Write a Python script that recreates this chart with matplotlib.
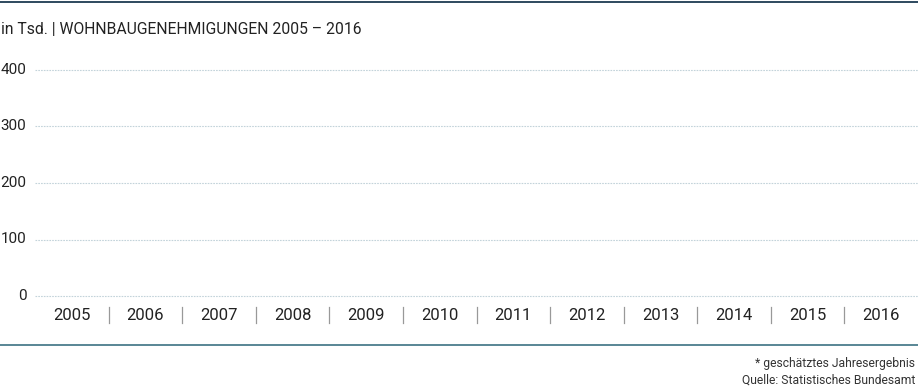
import matplotlib.pyplot as plt
from matplotlib.lines import Line2D

plt.rcParams['font.family'] = ['Liberation Sans Narrow', 'Roboto', 'DejaVu Sans']

years = ['2005', '2006', '2007', '2008', '2009', '2010',
         '2011', '2012', '2013', '2014', '2015', '2016']
yticks = [0, 100, 200, 300, 400]
title = 'in Tsd. | WOHNBAUGENEHMIGUNGEN 2005 – 2016'
notes = ['* geschätztes Jahresergebnis', 'Quelle: Statistisches Bundesamt']

W, H = 918, 388
fig = plt.figure(figsize=(W / 100, H / 100), dpi=100)

# plot area: x 35..918 px, y value 0 at 296 px, 400 at 70 px
x0, x1 = 35, 918
ybot, ytop = 296, 70
ax = fig.add_axes([x0 / W, 1 - ybot / H, (x1 - x0) / W, (ybot - ytop) / H])
ax.set_xlim(-0.5, len(years) - 0.5)
ax.set_ylim(0, 400)
for s in ax.spines.values():
    s.set_visible(False)
ax.set_xticks([])
ax.set_yticks([])
ax.patch.set_alpha(0)

for v in yticks:
    ax.axhline(v, color='#c3d3da', lw=0.8, ls=(0, (1.5, 1.0)), clip_on=False)
    fig.text(26.5 / W, ax.transData.transform((0, v))[1] / H, str(v),
             ha='right', va='center', fontsize=11, color='#222222')

# year labels and separators below the axis
for i, y in enumerate(years):
    fig.text((x0 + (i + 0.5) * (x1 - x0) / len(years)) / W, 1 - 315 / H, y,
             ha='center', va='center', fontsize=12, color='#222222')
    if i > 0:
        xs = (x0 + i * (x1 - x0) / len(years)) / W
        fig.add_artist(Line2D([xs, xs], [1 - 307 / H, 1 - 323 / H],
                              color='#999999', lw=0.9))

# title
fig.text(1 / W, 1 - 30 / H, title, ha='left', va='center', fontsize=11.3,
         color='#222222')

# top and bottom rules
fig.add_artist(Line2D([0, 1], [1 - 1.5 / H, 1 - 1.5 / H], color='#1d3a52', lw=1.3))
fig.add_artist(Line2D([0, 1], [1 - 345 / H, 1 - 345 / H], color='#4b7d8c', lw=1.3))

# footnotes
fig.text(915 / W, 1 - 363 / H, notes[0], ha='right', va='center', fontsize=8.7,
         color='#333333')
fig.text(915 / W, 1 - 380 / H, notes[1], ha='right', va='center', fontsize=8.7,
         color='#333333')

fig.savefig('out.png', dpi=100)
